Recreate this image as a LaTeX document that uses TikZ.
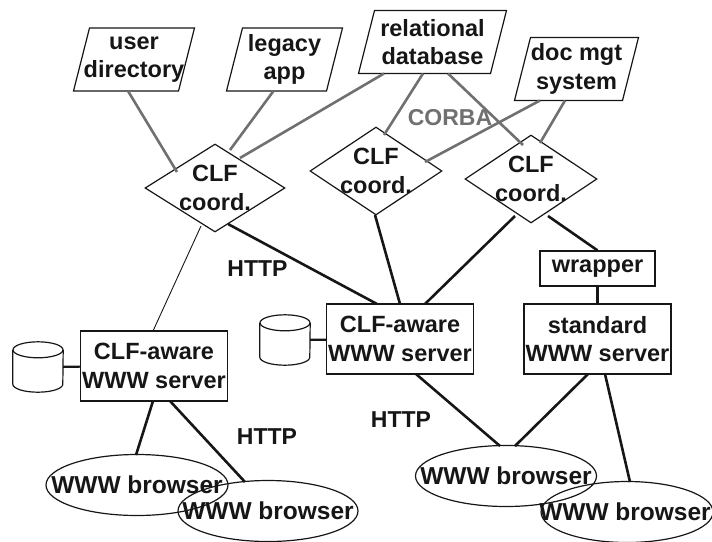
\documentclass[tikz,border=0pt]{standalone}
\usepackage{fontspec}
\setmainfont{Liberation Sans}
\usetikzlibrary{shapes.geometric,calc}
\definecolor{linkgray}{RGB}{112,112,112}
\definecolor{ink}{RGB}{22,22,22}

\tikzset{
  lbl/.style={font=\bfseries\fontsize{23.5}{28.5}\selectfont, align=center, text=ink, inner sep=0pt},
  brlbl/.style={font=\bfseries\fontsize{24.5}{30}\selectfont, text=ink, inner sep=0pt},
  outline/.style={draw=ink, line width=1.2pt},
  coordbox/.style={outline, diamond, inner sep=0pt, minimum width=#1, minimum height=88pt},
  serverbox/.style={outline, rectangle, lbl, minimum width=147pt, minimum height=70pt},
  browser/.style={outline, ellipse, inner sep=0pt, minimum height=61pt, minimum width=#1},
  store/.style={inner sep=0pt, minimum width=50pt, minimum height=50pt},
  link/.style={draw=linkgray, line width=2.6pt},
  wire/.style={draw=ink, line width=2.6pt},
  thinwire/.style={draw=ink, line width=0.9pt},
  proto/.style={font=\bfseries\fontsize{23}{28}\selectfont, inner sep=0pt},
}

% slanted data-source box: name, x, y, text, bottom width
\newcommand\slantbox[5]{%
  \node[lbl, minimum height=63pt] (#1) at (#2,#3) {#4};
  \draw[outline] ($(#1.center)+(-#5/2-8,31.5)$) -- ++(#5,0) -- ++(16,-63) -- ++(-#5,0) -- cycle;
}

% disk store drawn as a cylinder around a named node
\newcommand\diskstore[3]{%
  \node[store] (#1) at (#2,#3) {};
  \draw[outline] ([yshift=-8pt]#1.north) ellipse [x radius=25pt, y radius=8pt];
  \draw[outline] ([yshift=-8pt]#1.north west) -- ([yshift=8pt]#1.south west)
    arc[start angle=180, end angle=360, x radius=25pt, y radius=8pt]
    -- ([yshift=-8pt]#1.north east);
}

\begin{document}
\begin{tikzpicture}[x=1pt, y=-1pt]
\useasboundingbox (0,0) rectangle (712,541);

% data sources
\slantbox{ud}{134}{59.5}{user\\directory}{105}
\slantbox{la}{284.5}{59.5}{legacy\\app}{100}
\slantbox{rd}{432.5}{42}{relational\\database}{132}
\slantbox{dm}{576.5}{69}{doc mgt\\system}{108}

% coordinators
\node[coordbox=140pt, label={[lbl]center:{CLF\\coord.}}] (ld) at (215,188) {};
\node[coordbox=132pt, label={[lbl]center:{CLF\\coord.}}] (md) at (376,171) {};
\node[coordbox=132pt, label={[lbl]center:{CLF\\coord.}}] (rc) at (531,179) {};

% servers
\node[serverbox] (ls) at (154,366) {CLF-aware\\WWW server};
\node[serverbox] (ms) at (400,339) {CLF-aware\\WWW server};
\node[serverbox] (ss) at (597.5,339) {standard\\WWW server};
\node[outline, lbl, minimum width=115pt, minimum height=35pt] (wr) at (597.5,268.5) {wrapper};

\diskstore{lc}{38}{367}
\diskstore{mc}{285}{340}

% browsers
\node[browser=182pt, label={[brlbl]center:WWW browser}] (lb1) at (137,485) {};
\node[browser=180pt, label={[brlbl]center:WWW browser}] (lb2) at (268,511) {};
\node[browser=181pt, label={[brlbl]center:WWW browser}] (rb1) at (506,476) {};
\node[browser=172pt, label={[brlbl, xshift=-2pt]center:WWW browser}] (rb2) at (627,512) {};

% CORBA links from data sources to coordinators
\draw[link] ($(ud)+(-6,31.5)$) -- ($(ld)+(-38,-16)$);
\draw[link] ($(la)+(-11,31.5)$) -- ($(ld)+(15,-38)$);
\draw[link] ($(rd)+(-48.5,31.5)$) -- ($(ld)+(25,-30)$);
\draw[link] ($(rd)+(-9.5,31.5)$) -- ($(md)+(8,-36)$);
\draw[link] ($(rd)+(15.5,31.5)$) -- ($(rc)+(-8,-34)$);
\draw[link] ($(dm)+(-36.5,31.5)$) -- ($(md)+(49,-9)$);
\draw[link] ($(dm)+(-11.5,31.5)$) -- ($(rc)+(9,-36)$);
\node[proto, text=linkgray] (corba) at (450,118) {CORBA};

% coordinators to servers
\draw[thinwire] ($(ld)+(-14,38)$) -- ($(ls)+(-1,-35)$);
\draw[wire] ($(ld)+(13,36)$) -- ($(ms)+(-23,-35)$);
\draw[wire] ($(md)+(-1,44)$) -- ($(ms)+(0,-35)$);
\draw[wire] ($(rc)+(-16,37)$) -- ($(ms)+(25,-35)$);
\draw[wire] ($(rc)+(17,37)$) -- (wr.north);
\draw[wire] (wr.south) -- (ss.north);

% disk stores
\draw[wire, line width=2.2pt] (lc) -- (ls);
\draw[wire, line width=2.2pt] (mc) -- (ms);

% servers to browsers
\draw[wire] ($(ls)+(-1,35)$) -- ($(lb1)+(-1,-30)$);
\draw[wire] ($(ls)+(16,35)$) -- ($(lb2)+(-23,-29)$);
\draw[wire] ($(ms)+(16,35)$) -- ($(rb1)+(-6,-30)$);
\draw[wire] ($(ss)+(-9.5,35)$) -- ($(rb1)+(9,-30)$);
\draw[wire] ($(ss)+(7.5,35)$) -- ($(rb2)+(3,-30)$);

% protocol labels
\node[proto, text=ink] (http1) at (257.5,268.5) {HTTP};
\node[proto, text=ink] (http2) at (401,420) {HTTP};
\node[proto, text=ink] (http3) at (267,436.5) {HTTP};
\end{tikzpicture}
\end{document}
